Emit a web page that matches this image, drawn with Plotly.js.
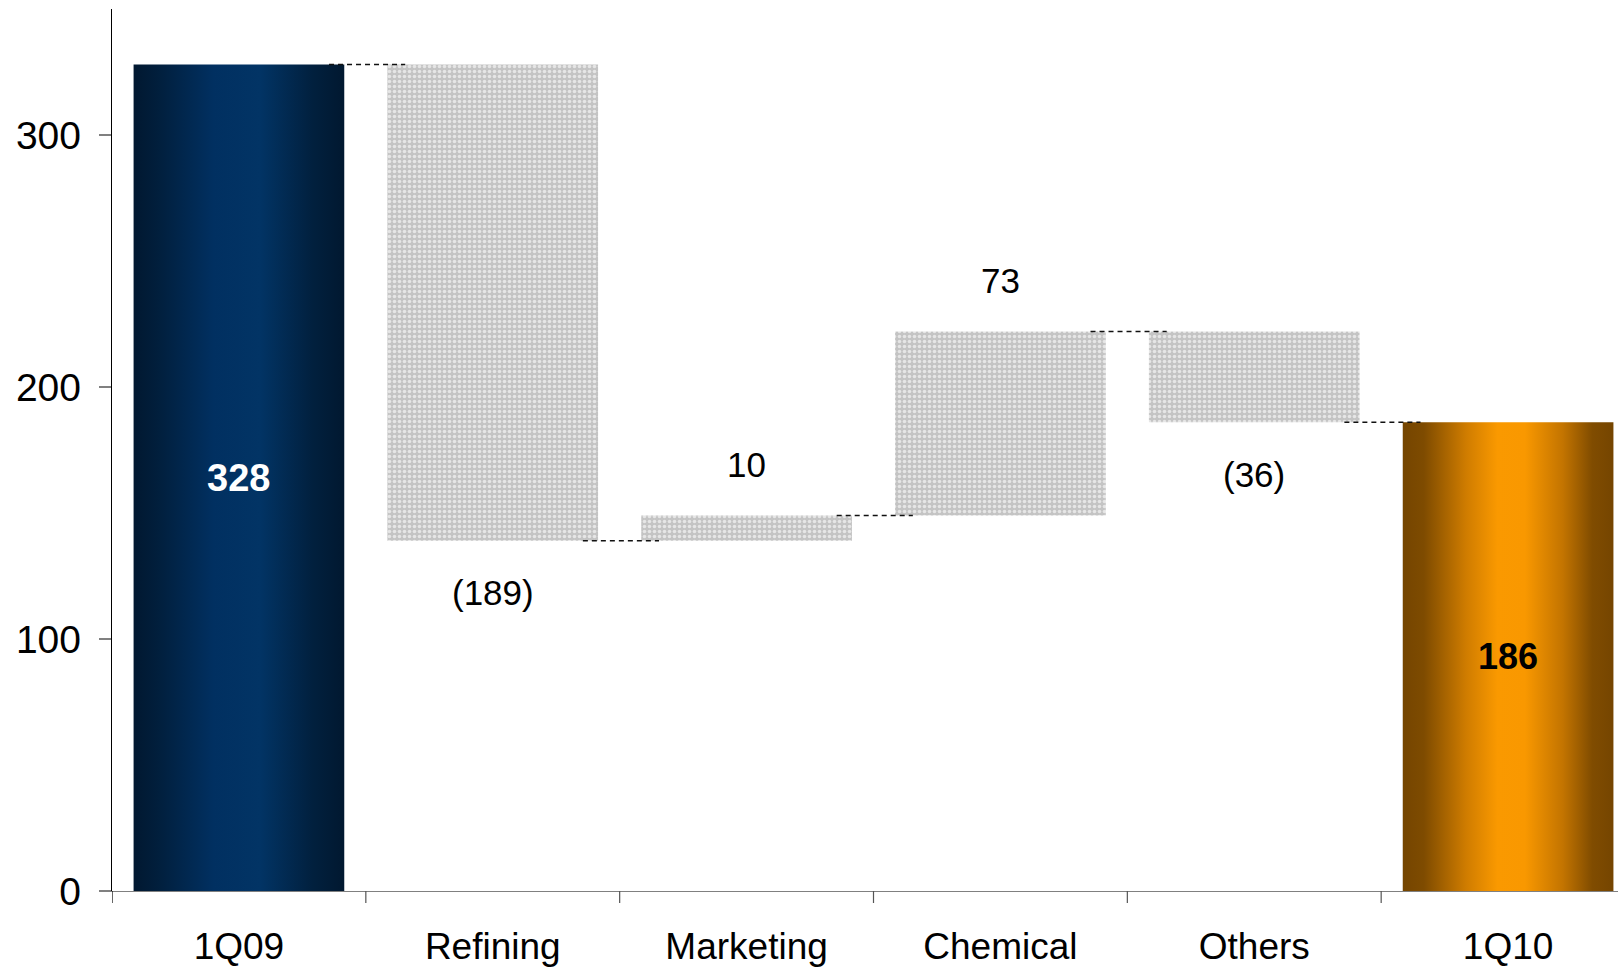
<!DOCTYPE html>
<html>
<head>
<meta charset="utf-8">
<script src="https://cdn.plot.ly/plotly-3.0.1.min.js"></script>
<style>
  html, body { margin: 0; padding: 0; background: #fff; }
  #chart { width: 1618px; height: 970px; }
</style>
</head>
<body>
<div id="chart"></div>
<script>
// ---- Data ----
const categories = ['1Q09', 'Refining', 'Marketing', 'Chemical', 'Others', '1Q10'];
const startTotal = 328;
const changes = [-189, 10, 73, -36];
const endTotal = 186;
const changeLabels = ['(189)', '10', '73', '(36)'];
const totalLabels = ['328', '186'];
const yTicks = [0, 100, 200, 300];

// ---- Style ----
const FONT = 'Arial, "Liberation Sans", sans-serif';
const barWidth = 0.83;
const blueScale = [[0, '#011830'], [0.12, '#011f3d'], [0.38, '#013061'], [0.6, '#023465'], [0.85, '#01203e'], [1, '#011830']];
const orangeScale = [[0, '#754500'], [0.1, '#7e4b00'], [0.3, '#cf7c00'], [0.45, '#fa9900'], [0.58, '#f99800'], [0.76, '#c37400'], [0.9, '#804c00'], [1, '#754500']];

// running levels
const levels = [startTotal];
changes.forEach(c => levels.push(levels[levels.length - 1] + c));

const traces = [];

// total bars as gradient-filled rectangles built from the data
function totalBar(xi, val, scale) {
  const h = barWidth / 2;
  return {
    type: 'scatter', mode: 'lines',
    x: [xi - h, xi + h, xi + h, xi - h, xi - h],
    y: [0, 0, val, val, 0],
    fill: 'toself',
    fillgradient: { type: 'horizontal', colorscale: scale },
    line: { width: 0 },
    hoverinfo: 'skip', showlegend: false
  };
}
traces.push(totalBar(0, startTotal, blueScale));
traces.push(totalBar(categories.length - 1, endTotal, orangeScale));

// floating change bars
traces.push({
  type: 'bar',
  x: changes.map((c, i) => i + 1),
  base: changes.map((c, i) => Math.min(levels[i], levels[i + 1])),
  y: changes.map(c => Math.abs(c)),
  width: barWidth,
  marker: {
    color: '#c8c8c8',
    line: { width: 0 },
    pattern: { shape: '.', fgcolor: '#e6e6e6', bgcolor: '#c4c4c4', size: 5, solidity: 0.4, fillmode: 'replace' }
  },
  hoverinfo: 'skip', showlegend: false
});

// connectors
const shapes = [];
levels.forEach((lv, i) => {
  shapes.push({
    type: 'line', xref: 'x', yref: 'y',
    x0: i + 0.355, x1: i + 0.655, y0: lv, y1: lv,
    line: { color: '#111', width: 1.6, dash: '5px,4px' }
  });
});
// category boundary ticks
for (let b = -0.5; b < categories.length - 1; b += 1) {
  shapes.push({
    type: 'line', xref: 'x', yref: 'paper', ysizemode: 'pixel', yanchor: 0,
    x0: b, x1: b, y0: 0, y1: -12,
    line: { color: b < 0 ? '#000' : '#555', width: 1.2 }
  });
}

// annotations
const annotations = [];
changes.forEach((c, i) => {
  annotations.push({
    x: i + 1, y: levels[i + 1], xref: 'x', yref: 'y',
    text: changeLabels[i], showarrow: false,
    yanchor: 'middle', yshift: c >= 0 ? 51 : -52,
    font: { family: FONT, size: 35, color: '#000' }
  });
});
annotations.push({
  x: 0, y: startTotal / 2, xref: 'x', yref: 'y', text: '<b>' + totalLabels[0] + '</b>',
  showarrow: false, yanchor: 'middle', font: { family: FONT, size: 38, color: '#fff' }
});
annotations.push({
  x: categories.length - 1, y: endTotal / 2, xref: 'x', yref: 'y', text: '<b>' + totalLabels[1] + '</b>',
  showarrow: false, yanchor: 'middle', font: { family: FONT, size: 36, color: '#000' }
});

const layout = {
  width: 1618, height: 970,
  margin: { l: 112, r: 0, t: 9, b: 79, pad: 0 },
  paper_bgcolor: '#fff', plot_bgcolor: '#fff',
  showlegend: false,
  xaxis: {
    type: 'linear',
    range: [-0.5, categories.length - 0.5 - 0.067],
    tickvals: categories.map((c, i) => i),
    ticktext: categories,
    ticks: '', showgrid: false, zeroline: false,
    showline: true, linecolor: '#808080', linewidth: 1.2,
    tickfont: { family: FONT, size: 37, color: '#000' },
    ticklabelstandoff: 22
  },
  yaxis: {
    range: [0, 350],
    tickvals: yTicks,
    ticktext: yTicks.map(String),
    ticks: 'outside', ticklen: 12, tickcolor: '#808080', tickwidth: 1.2,
    showgrid: false, zeroline: false,
    showline: true, linecolor: '#000', linewidth: 1.2,
    tickfont: { family: FONT, size: 39, color: '#000' },
    ticklabelstandoff: 10
  },
  shapes: shapes,
  annotations: annotations
};

Plotly.newPlot('chart', traces, layout, { displayModeBar: false, staticPlot: true });
</script>
</body>
</html>
